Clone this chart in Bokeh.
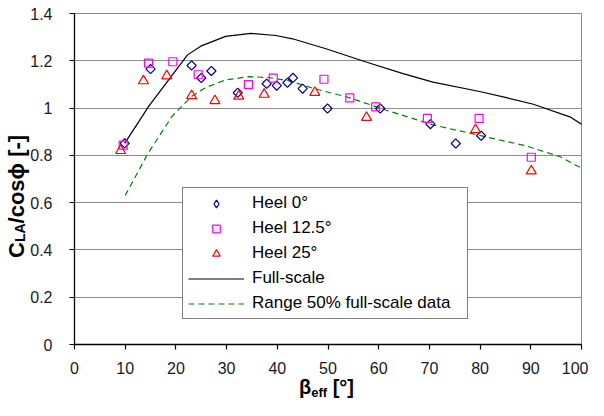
import math
from bokeh.plotting import figure
from bokeh.models import (Range1d, FixedTicker, CustomJSTickFormatter, Legend,
                          LegendItem)
from bokeh.models import dom
from bokeh.embed import file_html
from bokeh.resources import INLINE

# ---- data ----
heel0_x = [9.9, 15.0, 23.1, 25.0, 27.0, 32.2, 37.9, 39.9, 42.0, 43.1, 45.0, 49.9, 60.3, 70.2, 75.2, 80.2]
heel0_y = [0.851, 1.165, 1.180, 1.127, 1.157, 1.065, 1.103, 1.095, 1.107, 1.128, 1.082, 0.998, 0.998, 0.932, 0.850, 0.883]

heel12_x = [9.6, 14.6, 19.4, 24.4, 34.3, 39.2, 49.2, 54.3, 59.4, 69.6, 79.8, 90.1]
heel12_y = [0.843, 1.190, 1.196, 1.141, 1.099, 1.127, 1.122, 1.043, 1.005, 0.956, 0.956, 0.792]

heel25_x = [9.1, 13.6, 18.2, 23.1, 27.7, 32.4, 37.4, 47.4, 57.6, 79.1, 90.1]
heel25_y = [0.820, 1.115, 1.136, 1.052, 1.031, 1.050, 1.058, 1.066, 0.960, 0.908, 0.734]

full_x = [9.9, 14.7, 22.3, 24.9, 29.8, 34.8, 39.7, 43.0, 49.6, 57.5, 64.8, 70.7, 79.9, 85.2, 90.5, 97.7, 101.5]
full_y = [0.851, 1.009, 1.225, 1.262, 1.303, 1.316, 1.307, 1.293, 1.251, 1.195, 1.146, 1.110, 1.070, 1.044, 1.016, 0.963, 0.911]

range_x = [10.0, 14.4, 19.3, 23.2, 25.9, 29.8, 34.5, 38.4, 42.4, 47.0, 54.2, 61.5, 70.7, 81.2, 89.1, 95.7, 101.5]
range_y = [0.630, 0.805, 0.967, 1.051, 1.087, 1.119, 1.133, 1.129, 1.115, 1.084, 1.044, 0.991, 0.929, 0.878, 0.840, 0.795, 0.728]

x_ticks = [0, 10, 20, 30, 40, 50, 60, 70, 80, 90, 100]
y_ticks = [0, 0.2, 0.4, 0.6, 0.8, 1.0, 1.2, 1.4]

legend_labels = ["Heel 0°", "Heel 12.5°", "Heel 25°", "Full-scale", "Range 50% full-scale data"]

FONT = "Liberation Sans"

p = figure(width=588, height=400, output_backend="svg", toolbar_location=None,
           x_range=Range1d(0, 100), y_range=Range1d(0, 1.4),
           min_border_left=74, min_border_right=7, min_border_top=13, min_border_bottom=56)

p.xgrid.visible = False
p.ygrid.ticker = FixedTicker(ticks=y_ticks)
p.ygrid.grid_line_color = "#8c8c8c"
p.ygrid.grid_line_width = 1
p.outline_line_color = "#888888"
p.outline_line_width = 1

p.xaxis.ticker = FixedTicker(ticks=x_ticks)
p.yaxis.ticker = FixedTicker(ticks=y_ticks)
p.yaxis.formatter = CustomJSTickFormatter(code="return String(Math.round(tick*10)/10);")
for ax in (p.xaxis[0], p.yaxis[0]):
    ax.axis_line_color = "black"
    ax.axis_line_width = 1.3
    ax.major_tick_line_color = "black"
    ax.major_tick_line_width = 1.2
    ax.major_tick_out = 5
    ax.major_tick_in = 0
    ax.minor_tick_out = 0
    ax.minor_tick_in = 0
    ax.major_label_text_font = FONT
    ax.major_label_text_font_size = "16px"
    ax.major_label_text_color = "#1a1a1a"
p.yaxis.major_label_standoff = 17
p.xaxis.major_label_standoff = 12

# ---- glyphs ----
r_full = p.line(full_x, full_y, line_color="black", line_width=1.2)
r_range = p.line(range_x, range_y, line_color="#008000", line_width=1.2, line_dash="6 4")
r0 = p.scatter(heel0_x, heel0_y, marker="square", angle=math.pi / 4, size=6.5,
               fill_color=None, line_color="#000080", line_width=1.2)
r1 = p.scatter(heel12_x, heel12_y, marker="square", size=8,
               fill_color=None, line_color="#ff00ff", line_width=1.2)
r2 = p.scatter(heel25_x, heel25_y, marker="triangle", size=10,
               fill_color=None, line_color="#ff0000", line_width=1.2)
# hidden proxy so that the legend shows a diamond symbol
r0_leg = p.scatter(heel0_x, heel0_y, marker="diamond", size=10, visible=False,
                   fill_color=None, line_color="#000080", line_width=1.2)

legend = Legend(items=[LegendItem(label=legend_labels[0], renderers=[r0_leg]),
                       LegendItem(label=legend_labels[1], renderers=[r1]),
                       LegendItem(label=legend_labels[2], renderers=[r2]),
                       LegendItem(label=legend_labels[3], renderers=[r_full]),
                       LegendItem(label=legend_labels[4], renderers=[r_range])],
                location=(108, 25), padding=5, spacing=5, margin=0,
                glyph_width=56, glyph_height=19, label_height=19,
                label_standoff=8, label_width=210,
                label_text_font=FONT, label_text_font_size="17px",
                label_text_color="black", inactive_fill_alpha=0,
                border_line_color="black", border_line_width=1,
                background_fill_color="white", background_fill_alpha=1)
p.add_layout(legend, "center")

# ---- axis titles with subscripts (HTML text placed over the figure) ----
base = {"position": "absolute", "white-space": "nowrap", "font-family": "'Liberation Sans', Arial, sans-serif",
        "font-weight": "bold", "color": "black", "z-index": "10"}

xtitle = dom.Div(style=dict(base, **{"left": "299px", "top": "377px", "font-size": "20px", "line-height": "20px"}),
                 children=["β",
                           dom.Span(style={"font-size": "13px", "vertical-align": "-3px"}, children=["eff"]),
                           " [°]"])
ytitle = dom.Div(style=dict(base, **{"left": "6px", "top": "258px", "font-size": "22px", "line-height": "22px",
                                     "transform": "rotate(-90deg)", "transform-origin": "0 0"}),
                 children=["C",
                           dom.Span(style={"font-size": "14px", "vertical-align": "-1px"}, children=["LA"]),
                           "/cosϕ [-]"])
# outer chart border (top and left edges are visible in the reference)
frame_border = dom.Div(style={"position": "absolute", "left": "-2px", "top": "-3px",
                              "width": "620px", "height": "430px",
                              "border-left": "1px solid #222222", "border-top": "1px solid #222222",
                              "pointer-events": "none", "z-index": "5"})
p.elements = [xtitle, ytitle, frame_border]

open("out.html", "w").write(file_html(p, INLINE))
